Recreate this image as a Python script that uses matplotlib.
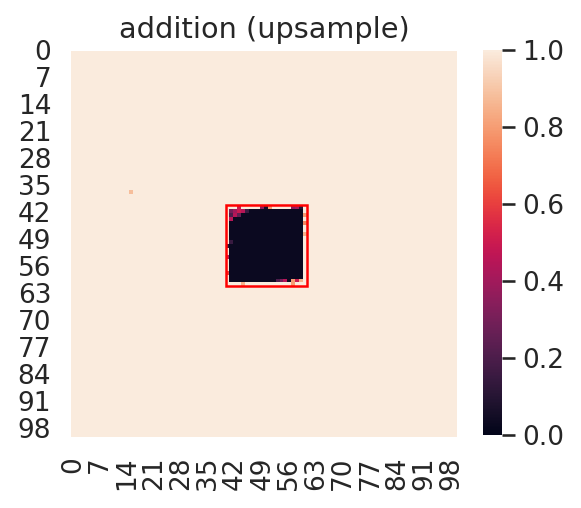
"""Heatmap of the addition map (upsample) with the target box outlined."""

import matplotlib

matplotlib.use("Agg")
import matplotlib.pyplot as plt
import numpy as np
import seaborn as sns
from matplotlib.patches import Rectangle

GRID_SIZE = 100
BACKGROUND = 1.0

# dark square, rows/cols given as [start, stop)
BLOCK_ROWS = (41, 60)
BLOCK_COLS = (41, 60)
BLOCK_VALUE = 0.03

# single cells that differ from the background / block (row, col, value)
CELL_ROWS = [36, 40, 40, 40, 40, 40, 40, 40, 41, 41, 41, 41, 41, 42, 42, 42, 43,
             49, 50, 53, 57, 59, 59, 59, 59, 59, 59, 60, 60, 42, 44, 47]
CELL_COLS = [15, 49, 50, 51, 57, 58, 59, 43, 41, 42, 43, 44, 45, 41, 42, 43, 41,
             41, 40, 40, 40, 53, 54, 55, 57, 58, 59, 44, 57, 60, 60, 60]
CELL_VALUES = [0.88, 0.35, 0.05, 0.8, 0.35, 0.4, 0.1, 0.5, 0.3, 0.4, 0.5, 0.45, 0.15,
               0.2, 0.45, 0.25, 0.45, 0.15, 0.1, 0.45, 0.6, 0.2, 0.3, 0.45, 0.8, 0.5,
               0.85, 0.85, 0.8, 0.8, 0.75, 0.85]

BOX = (40, 40, 21, 21)  # x, y, width, height in cell units


def build_map() -> np.ndarray:
    data = np.full((GRID_SIZE, GRID_SIZE), BACKGROUND)
    data[BLOCK_ROWS[0]:BLOCK_ROWS[1], BLOCK_COLS[0]:BLOCK_COLS[1]] = BLOCK_VALUE
    for row, col, value in zip(CELL_ROWS, CELL_COLS, CELL_VALUES):
        data[row, col] = value
    return data


def main() -> None:
    sns.set_theme(font_scale=1.15)
    fig = plt.figure(figsize=(581 / 150, 508 / 150), dpi=150)
    ax = fig.add_axes([71 / 581, 1 - 436.7 / 508, 386.3 / 581, 385.7 / 508])
    cax = fig.add_axes([483 / 581, 1 - 435 / 508, 19 / 581, 385 / 508])

    sns.heatmap(build_map(), ax=ax, cbar_ax=cax, vmin=0, vmax=1,
                xticklabels=7, yticklabels=7)
    ax.tick_params(axis="x", labelrotation=90)
    ax.tick_params(axis="y", labelrotation=0)
    ax.add_patch(Rectangle(BOX[:2], BOX[2], BOX[3], fill=False,
                           edgecolor="red", linewidth=1.2))
    ax.set_title("addition (upsample)")

    fig.savefig("out.png", dpi=150)
    plt.close(fig)


if __name__ == "__main__":
    main()
